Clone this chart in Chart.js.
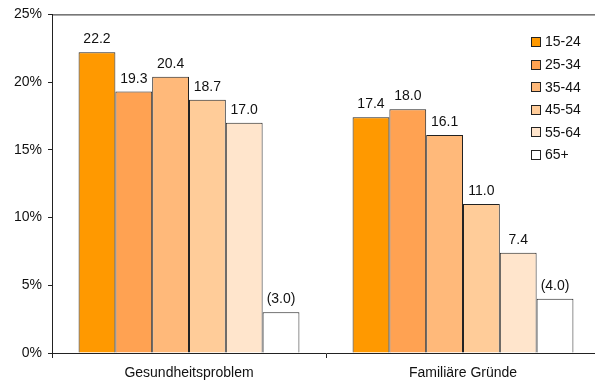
<!DOCTYPE html>
<html>
<head>
<meta charset="utf-8">
<script src="https://cdn.jsdelivr.net/npm/chart.js@4.4.1/dist/chart.umd.min.js"></script>
<style>
    html, body { margin: 0; padding: 0; background: #fff; overflow: hidden; }
    #wrap { width: 600px; height: 383px; }
</style>
</head>
<body>
<div id="wrap"><canvas id="ageChart" width="600" height="383"></canvas></div>
<script>
const categories = ['Gesundheitsproblem', 'Familiäre Gründe'];
const ageGroups = ['15-24', '25-34', '35-44', '45-54', '55-64', '65+'];
const age15_24 = [22.2, 17.4];
const age25_34 = [19.3, 18.0];
const age35_44 = [20.4, 16.1];
const age45_54 = [18.7, 11.0];
const age55_64 = [17.0, 7.4];
const age65plus = [3.0, 4.0];
// 65+ values are shown in brackets (low reliability)
const bracketed = [false, false, false, false, false, true];
const yTicks = [0, 5, 10, 15, 20, 25];

const colors = ['#FF9900', '#FFA252', '#FFB97A', '#FFCC99', '#FFE5CC', '#FFFFFF'];
const font = 'Liberation Sans, Arial, sans-serif';
Chart.defaults.font.family = font;
Chart.defaults.font.size = 14;
Chart.defaults.color = '#111';

const seriesValues = [age15_24, age25_34, age35_44, age45_54, age55_64, age65plus];

const barLabels = {
    id: 'barLabels',
    afterDatasetsDraw(chart) {
        const ctx = chart.ctx;
        ctx.save();
        ctx.font = '14px ' + font;
        ctx.fillStyle = '#111';
        ctx.textAlign = 'center';
        ctx.textBaseline = 'alphabetic';
        chart.data.datasets.forEach((ds, i) => {
            chart.getDatasetMeta(i).data.forEach((bar, j) => {
                let txt = ds.data[j].toFixed(1);
                if (bracketed[i]) txt = '(' + txt + ')';
                ctx.fillText(txt, bar.x, bar.y - 9);
            });
        });
        ctx.restore();
    }
};

const frameAndLegend = {
    id: 'frameAndLegend',
    afterDraw(chart) {
        const ctx = chart.ctx;
        const a = chart.chartArea;
        ctx.save();
        ctx.strokeStyle = '#222';
        ctx.lineWidth = 1;
        ctx.beginPath();
        ctx.moveTo(a.left, a.top + 0.5);
        ctx.lineTo(a.right, a.top + 0.5);
        ctx.stroke();

        ctx.font = '14px ' + font;
        ctx.textBaseline = 'middle';
        ctx.textAlign = 'left';
        ageGroups.forEach((g, i) => {
            const y = 42 + i * 22.6;
            ctx.fillStyle = colors[i];
            ctx.fillRect(531.5, Math.round(y) - 4.5, 9, 9);
            ctx.strokeStyle = '#222';
            ctx.strokeRect(531.5, Math.round(y) - 4.5, 9, 9);
            ctx.fillStyle = '#111';
            ctx.fillText(g, 545, y + 0.5);
        });
        ctx.restore();
    }
};

new Chart(document.querySelector('#ageChart'), {
    type: 'bar',
    data: {
        labels: categories,
        datasets: ageGroups.map((g, i) => ({
            label: g,
            data: seriesValues[i],
            backgroundColor: colors[i],
            borderColor: '#222',
            borderWidth: 1,
            barPercentage: 1,
            categoryPercentage: 0.806
        }))
    },
    options: {
        responsive: false,
        animation: false,
        layout: { padding: { top: 11, left: 0, right: 0, bottom: 0 } },
        plugins: {
            legend: { display: false },
            tooltip: { enabled: false }
        },
        scales: {
            x: {
                grid: { display: true, drawOnChartArea: false, offset: true, tickLength: 5, color: '#222' },
                border: { display: true, color: '#222' },
                ticks: { padding: 7, font: { size: 14 }, color: '#111' },
                afterFit: (scale) => { scale.height = 30; }
            },
            y: {
                min: 0,
                max: 25,
                afterBuildTicks: (scale) => { scale.ticks = yTicks.map(v => ({ value: v })); },
                grid: { display: true, drawOnChartArea: false, tickLength: 4, color: '#222' },
                border: { display: true, color: '#222' },
                ticks: { padding: 6, font: { size: 14 }, color: '#111', callback: (v) => v + '%' },
                afterFit: (scale) => { scale.width = 52; }
            }
        }
    },
    plugins: [barLabels, frameAndLegend]
});
</script>
</body>
</html>
